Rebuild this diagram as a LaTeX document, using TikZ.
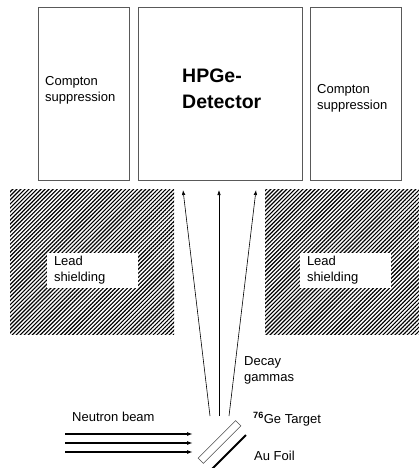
\documentclass[tikz,border=0pt]{standalone}
\usepackage{fontspec}
\setmainfont{Liberation Sans}
\usetikzlibrary{arrows.meta,patterns.meta}
\tikzset{detbox/.style={draw=black!65, line width=0.8pt, rectangle, inner sep=0pt, minimum width=91pt, minimum height=173pt},
  shield/.style={rectangle, inner sep=0pt, minimum height=145pt, pattern={Lines[angle=45,distance=2.85pt,line width=1.15pt]}},
  shieldlbl/.style={rectangle, fill=white, minimum height=35pt, text width=77pt, inner xsep=7pt, inner ysep=0pt, align=left, font=\fontsize{13}{16}\selectfont},
  txt/.style={font=\fontsize{13}{16}\selectfont, align=left, inner sep=0pt, anchor=west},
  gamma/.style={-{Latex[length=5pt,width=3.5pt]}, line width=0.6pt},
  beam/.style={-{Latex[length=6pt,width=4pt]}, line width=1.2pt}}

\begin{document}
\begin{tikzpicture}[x=1pt, y=-1pt]
    \useasboundingbox (0,0) rectangle (419,468);
    \clip (0,0) rectangle (419,468);
    % detector and Compton suppression
    \node[detbox] (CL) at (83.5,93.5) {};
    \node[detbox, minimum width=164pt] (HP) at (220,93.5) {};
    \node[detbox] (CR) at (355.5,93.5) {};
    \node[txt] (CLt) at (45,90) {Compton\\suppression};
    \node[txt, font=\fontsize{19.5}{26}\selectfont\bfseries] (HPt) at (182,89) {HPGe-\\Detector};
    \node[txt] (CRt) at (317,98) {Compton\\suppression};
    % lead shielding
    \node[shield, minimum width=164pt] (PbL) at (92,261.5) {};
    \node[shield, minimum width=154pt] (PbR) at (342,261.5) {};
    \node[shieldlbl] (PbLt) at (92.5,270.5) {Lead\\shielding};
    \node[shieldlbl] (PbRt) at (345.5,270.5) {Lead\\shielding};
    % target and foil
    \node[draw=black!70, fill=white, line width=0.6pt, rectangle, inner sep=0pt, minimum width=53pt, minimum height=7.5pt, rotate=45] (T) at (219.5,442) {};
    \coordinate (Au1) at (212,469);
    \coordinate (Au2) at (246,435);
    \draw[line width=1.8pt] (Au1) -- (Au2);
    % decay gammas
    \coordinate (G1) at (210,416);
    \coordinate (G2) at (219,416);
    \coordinate (G3) at (229,416);
    \coordinate (D1) at (183,190);
    \coordinate (D2) at (219,190);
    \coordinate (D3) at (256,190);
    \draw[gamma] (G1) -- (D1);
    \draw[gamma] (G2) -- (D2);
    \draw[gamma] (G3) -- (D3);
    % neutron beam
    \foreach \i/\y in {1/434,2/443,3/452} {
        \coordinate (B\i) at (65,\y);
        \coordinate (E\i) at (193,\y);
        \draw[beam] (B\i) -- (E\i);
    }
    \node[txt] (gam) at (244,370.5) {Decay\\gammas};
    \node[txt] (nb) at (72,417) {Neutron beam};
    \node[txt] (ge) at (253,419) {\textsuperscript{\bfseries 76}Ge Target};
    \node[txt] (au) at (254,456) {Au Foil};
\end{tikzpicture}
\end{document}
